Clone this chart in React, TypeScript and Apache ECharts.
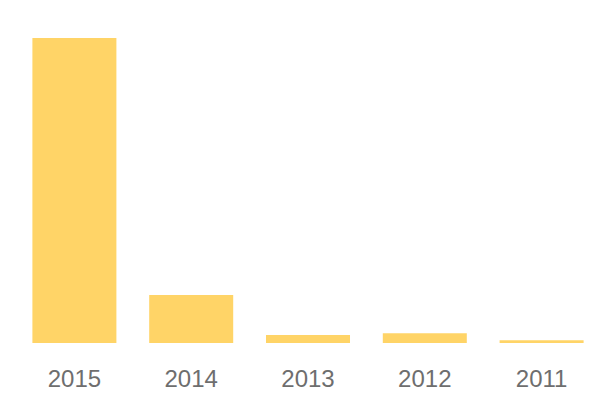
import React, { useEffect, useRef } from "react";
import * as echarts from "echarts";

const categories = ["2015", "2014", "2013", "2012", "2011"];
const values = [305, 48, 8, 9.7, 2.7];

export default function App() {
  const ref = useRef<HTMLDivElement>(null);
  useEffect(() => {
    const chart = echarts.init(ref.current!, null, { renderer: "svg" });
    chart.setOption({
      animation: false,
      grid: { left: 16, right: 0, top: 38, bottom: 57 },
      xAxis: {
        type: "category",
        data: categories,
        axisLine: { show: false },
        axisTick: { show: false },
        axisLabel: {
          color: "#6e6e6e",
          fontSize: 24,
          fontFamily: "Liberation Sans, Arial, sans-serif",
          margin: 23,
        },
      },
      yAxis: {
        type: "value",
        min: 0,
        max: 305,
        show: false,
        splitLine: { show: false },
      },
      series: [
        {
          type: "bar",
          data: values,
          barWidth: 84,
          itemStyle: { color: "#FFD467" },
        },
      ],
    });
    return () => chart.dispose();
  }, []);
  return <div ref={ref} style={{ width: 600, height: 400, position: "absolute", left: 0, top: 0 }} />;
}
